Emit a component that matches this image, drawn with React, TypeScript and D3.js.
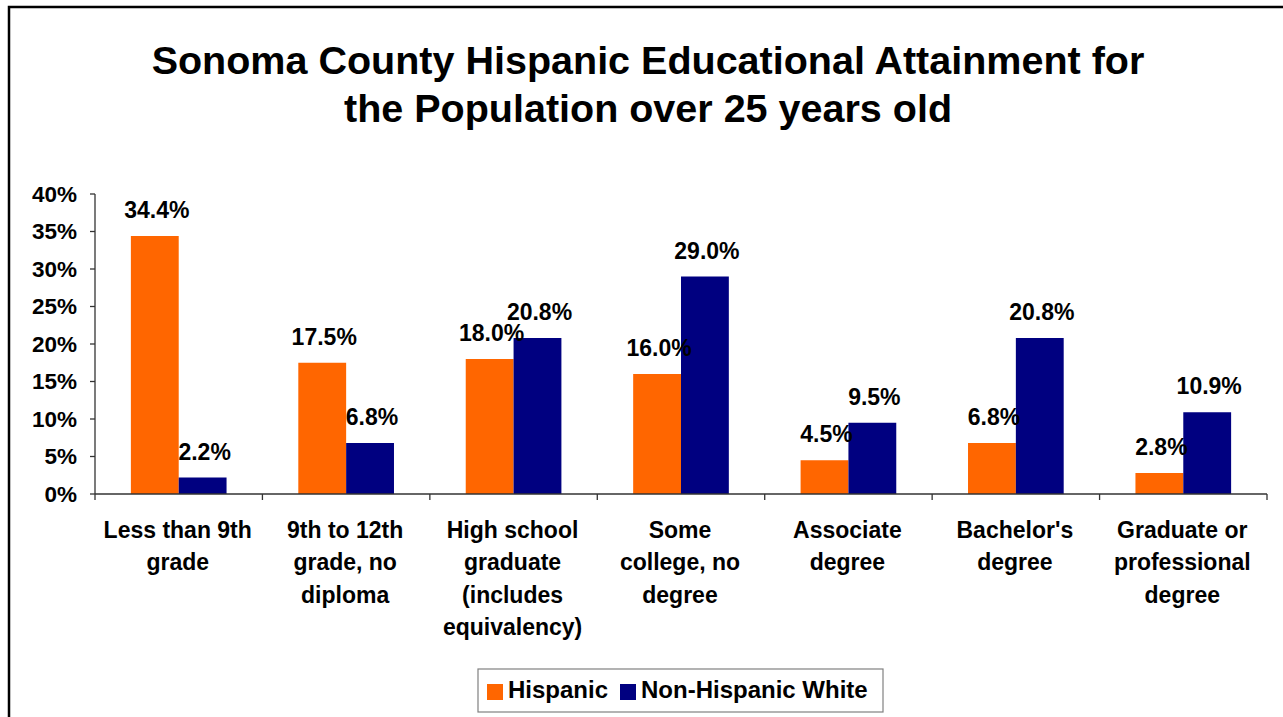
import React from "react";
import * as d3 from "d3";

const categories = [
  "Less than 9th grade",
  "9th to 12th grade, no diploma",
  "High school graduate (includes equivalency)",
  "Some college, no degree",
  "Associate degree",
  "Bachelor's degree",
  "Graduate or professional degree",
];
const categoryLines = [
  ["Less than 9th", "grade"],
  ["9th to 12th", "grade, no", "diploma"],
  ["High school", "graduate", "(includes", "equivalency)"],
  ["Some", "college, no", "degree"],
  ["Associate", "degree"],
  ["Bachelor's", "degree"],
  ["Graduate or", "professional", "degree"],
];
const seriesNames = ["Hispanic", "Non-Hispanic White"];
const hispanic = [34.4, 17.5, 18.0, 16.0, 4.5, 6.8, 2.8];
const nonHispanicWhite = [2.2, 6.8, 20.8, 29.0, 9.5, 20.8, 10.9];
const yTicks = [0, 5, 10, 15, 20, 25, 30, 35, 40];
const colors = ["#FF6600", "#000080"];
const titleLines = [
  "Sonoma County Hispanic Educational Attainment for",
  "the Population over 25 years old",
];

const FONT = "'Liberation Sans', Arial, sans-serif";

export default function App() {
  const left = 95;
  const right = 1267;
  const top = 194;
  const bottom = 494;
  const x = d3.scaleBand<string>().domain(categories).range([left, right]).padding(0);
  const y = d3.scaleLinear().domain([0, 40]).range([bottom, top]);
  const barW = x.bandwidth() / 3.5;
  const series = [hispanic, nonHispanicWhite];
  const boundaries = d3.range(categories.length + 1).map((i) => left + i * x.bandwidth());

  return (
    <svg
      width={1283}
      height={717}
      style={{ position: "absolute", left: 0, top: 0, background: "#fff" }}
      fontFamily={FONT}
      fontWeight="bold"
    >
      <rect x={0} y={0} width={1283} height={717} fill="#fff" />
      <rect x={9} y={7} width={1300} height={730} fill="none" stroke="#000" strokeWidth={2.5} />
      {titleLines.map((t, i) => (
        <text key={i} x={648} y={74 + i * 48} textAnchor="middle" fontSize={39.5} fill="#000">
          {t}
        </text>
      ))}

      {/* bars */}
      {series.map((vals, si) =>
        vals.map((v, ci) => {
          const cx = (x(categories[ci]) as number) + x.bandwidth() / 2;
          const bx = si === 0 ? cx - barW : cx;
          return (
            <rect
              key={`${si}-${ci}`}
              x={bx}
              y={y(v)}
              width={barW}
              height={y(0) - y(v)}
              fill={colors[si]}
            />
          );
        })
      )}

      {/* axes */}
      <line x1={left} x2={left} y1={top} y2={bottom} stroke="#333" strokeWidth={1.3} />
      <line x1={left} x2={right} y1={bottom} y2={bottom} stroke="#333" strokeWidth={1.3} />
      {yTicks.map((t) => (
        <g key={t}>
          <line x1={left - 5} x2={left} y1={y(t)} y2={y(t)} stroke="#333" strokeWidth={1.3} />
          <text x={77} y={y(t) + 7.8} textAnchor="end" fontSize={22.5} fill="#000">
            {t}%
          </text>
        </g>
      ))}
      {boundaries.map((bx, i) => (
        <line key={i} x1={bx} x2={bx} y1={bottom} y2={bottom + 6} stroke="#333" strokeWidth={1.3} />
      ))}

      {/* data labels */}
      {series.map((vals, si) =>
        vals.map((v, ci) => {
          const cx = (x(categories[ci]) as number) + x.bandwidth() / 2;
          const lx = si === 0 ? cx - barW / 2 : cx + barW / 2;
          return (
            <text
              key={`l${si}-${ci}`}
              x={lx + 2}
              y={y(v) - 18}
              textAnchor="middle"
              fontSize={23}
              fill="#000"
            >
              {v.toFixed(1)}%
            </text>
          );
        })
      )}

      {/* category labels */}
      {categoryLines.map((lines, ci) => {
        const cx = (x(categories[ci]) as number) + x.bandwidth() / 2;
        return (
          <text key={ci} textAnchor="middle" fontSize={23} fill="#000">
            {lines.map((ln, li) => (
              <tspan key={li} x={cx - 1} y={538 + li * 32.3}>
                {ln}
              </tspan>
            ))}
          </text>
        );
      })}

      {/* legend */}
      <rect x={478} y={669} width={405} height={43} fill="#fff" stroke="#808080" strokeWidth={1.2} />
      <rect x={487} y={684} width={16} height={16} fill={colors[0]} />
      <text x={508} y={698} fontSize={24} fill="#000">
        {seriesNames[0]}
      </text>
      <rect x={620} y={684} width={16} height={16} fill={colors[1]} />
      <text x={641} y={698} fontSize={24} fill="#000">
        {seriesNames[1]}
      </text>
    </svg>
  );
}
